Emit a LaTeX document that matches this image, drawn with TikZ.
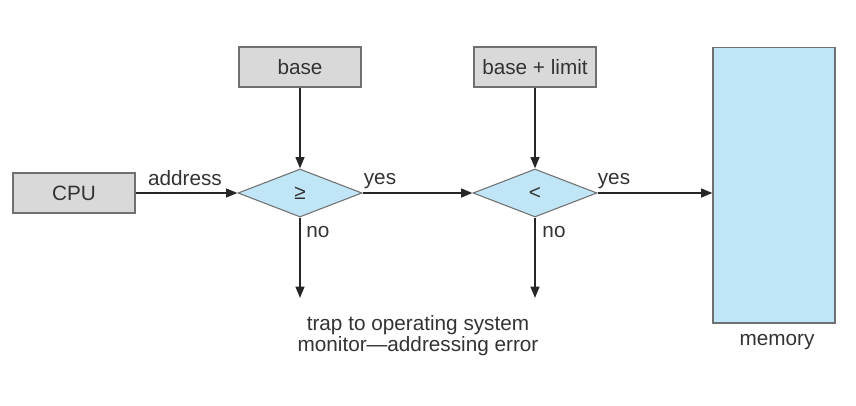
\documentclass[tikz,border=0pt]{standalone}
\usepackage{fontspec}
\setmainfont{Liberation Sans}
\usetikzlibrary{shapes.geometric,arrows.meta}
\definecolor{boxgray}{RGB}{217,217,217}
\definecolor{edgegray}{RGB}{112,112,112}
\definecolor{testblue}{RGB}{192,229,246}
\definecolor{inkgray}{RGB}{51,51,51}
\tikzset{
  regbox/.style={draw=edgegray, fill=boxgray, line width=0.6pt, minimum width=2.44cm,
    minimum height=0.8cm, inner sep=0pt, text=inkgray},
  test/.style={diamond, draw=edgegray, fill=testblue, line width=0.6pt, aspect=2.6,
    minimum width=2.48cm, minimum height=0.96cm, inner sep=0pt, text=inkgray},
  store/.style={draw=edgegray, fill=testblue, line width=0.6pt, minimum width=2.44cm,
    minimum height=5.52cm, inner sep=0pt},
  flow/.style={-{Triangle[length=6.5pt,width=5pt]}, line width=1.1pt, draw=black!85},
  lbl/.style={text=inkgray, inner sep=0pt}
}
\begin{document}
\begin{tikzpicture}[x=0.02cm, y=-0.02cm, font=\fontsize{11.8}{11.8}\selectfont]
      \useasboundingbox (0,0) rectangle (856,406);
      \draw
        (74,193) node[regbox] (cpu){CPU}
        (300,67) node[regbox] (base){base}
        (535,67) node[regbox] (limit){base + limit}
        (300,193) node[test] (ge){≥}
        (535,193) node[test] (lt){<}
        (774,185) node[store] (mem){};
      \coordinate (trapa) at (300,298);
      \coordinate (trapb) at (535,298);
      \draw
        (185,178) node[lbl] (addr){address}
        (380,181) node[lbl] (yesa){yes}
        (614,181) node[lbl] (yesb){yes}
        (318,232) node[lbl] (noa){no}
        (554,232) node[lbl] (nob){no}
        (418,336) node[lbl, align=center] (trap){trap to operating system\\monitor---addressing error}
        (777,342) node[lbl] (memlbl){memory};
      \begin{scope}[flow]
        \draw (cpu) to (ge);
        \draw (base) to (ge);
        \draw (limit) to (lt);
        \draw (ge) to (lt);
        \draw (lt.east) to (lt.east -| mem.west);
        \draw (ge.south) to (trapa);
        \draw (lt.south) to (trapb);
      \end{scope}
    \end{tikzpicture}
\end{document}
